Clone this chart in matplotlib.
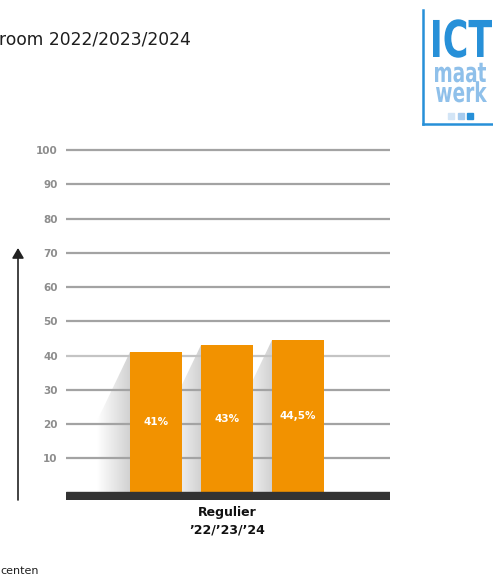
import matplotlib.pyplot as plt
import numpy as np
from matplotlib.colors import LinearSegmentedColormap
from matplotlib.patches import Polygon, PathPatch
from matplotlib.lines import Line2D
from matplotlib.textpath import TextPath
from matplotlib.font_manager import FontProperties
from matplotlib.transforms import Affine2D

# data
years = ["'22", "'23", "'24"]
values = [41, 43, 44.5]
value_labels = ["41%", "43%", "44,5%"]
category = "Regulier\n\u201922/\u201923/\u201924"
yticks = [10, 20, 30, 40, 50, 60, 70, 80, 90, 100]

orange = '#f29200'
grid_gray = '#a3a3a3'
logo_blue = '#2790d8'
logo_light = '#8fc0ea'

fig = plt.figure(figsize=(4.93, 5.76), dpi=100)
W, H = 493, 576

# axes placed so that 0 sits on the dark base and 100 on the top gridline
ax = fig.add_axes([66 / W, (H - 500) / H, 324 / W, 352 / H])
ax.set_xlim(-1.268, 3.296)
ax.set_ylim(-2.2, 100.6)
for s in ax.spines.values():
    s.set_visible(False)

x = np.arange(len(values))
bar_w = 0.73

# gridlines (the 40 line is a bit paler in the original)
for t in yticks:
    c = '#c4c4c4' if t == 40 else grid_gray
    ax.axhline(t, color=c, lw=1.6, zorder=2)

# dark base
ax.axhspan(-2.2, 0, color='#333333', zorder=4)

# shadows to the left of each bar: gradient clipped to a slanted shape
shade = LinearSegmentedColormap.from_list('shade', ['#ffffff', '#d0d0d0'])
grad = np.linspace(0, 1, 256).reshape(1, -1)
depth = 0.465
drop = 20
for xi, v in zip(x, values):
    x0 = xi - bar_w / 2
    poly = Polygon([(x0, v), (x0, 0), (x0 - depth, 0), (x0 - depth, v - drop)],
                   closed=True, facecolor='none', edgecolor='none')
    ax.add_patch(poly)
    im = ax.imshow(grad, cmap=shade, aspect='auto', extent=[x0 - depth, x0, 0, v],
                   zorder=1, interpolation='bilinear')
    im.set_clip_path(poly)

# bars
ax.bar(x, values, width=bar_w, color=orange, zorder=3)
for xi, v, lab in zip(x, values, value_labels):
    ax.text(xi, v / 2, lab, color='white', fontsize=7.5, fontweight='bold',
            ha='center', va='center', zorder=5)

ax.set_yticks(yticks)
ax.set_yticklabels([str(t) for t in yticks], color='#8d8d8d', fontsize=7.5,
                   fontweight='bold')
ax.set_xticks([1])
ax.set_xticklabels([category], fontsize=9, fontweight='bold', color='#111111',
                   linespacing=1.5)
ax.tick_params(axis='both', length=0)
ax.tick_params(axis='y', pad=6)
ax.tick_params(axis='x', pad=4)

# arrow on the left
fig.add_artist(plt.Annotation('', xy=(18, H - 248), xytext=(18, H - 500),
                              xycoords='figure pixels', textcoords='figure pixels',
                              arrowprops=dict(arrowstyle='-|>,head_length=0.6,head_width=0.35',
                                              color='#222222', lw=1.2, shrinkA=0, shrinkB=0)))

# title and footer
fig.text(-1 / W, 1 - 44 / H, 'room 2022/2023/2024', fontsize=12.3, color='#1e1e1e',
         fontweight='medium', ha='left', va='baseline')
fig.text(0, 1 - 574 / H, 'centen', fontsize=8, color='#1e1e1e', ha='left', va='baseline')

# logo frame
fig.add_artist(Line2D([423 / W, 423 / W], [1 - 10 / H, 1 - 124 / H], color=logo_blue, lw=1.8))
fig.add_artist(Line2D([423 / W, 1.0], [1 - 124 / H, 1 - 124 / H], color=logo_blue, lw=1.8))

# condensed logo words: text paths squeezed horizontally, placed in pixels
to_fig = Affine2D().scale(1 / W, 1 / H) + fig.transFigure
bold = FontProperties(family='DejaVu Sans', weight='bold')
def logo_word(s, left, right, baseline, size, color):
    tp = TextPath((0, 0), s, size=size, prop=bold)
    ext = tp.get_extents()
    sx = (right - left) / ext.width
    tr = Affine2D().translate(-ext.x0, 0).scale(sx, 1).translate(left, H - baseline)
    fig.add_artist(PathPatch(tp, facecolor=color, edgecolor='none', transform=tr + to_fig))

logo_word('ICT', 433, 492, 57, 50.8, logo_blue)
logo_word('maat', 435, 486, 82, 27.4, logo_light)
logo_word('werk', 436, 487, 102, 27.4, logo_light)
for sx, c in zip([448, 458, 467], ['#d3e5f6', '#a6cbee', logo_blue]):
    fig.add_artist(plt.Rectangle((sx / W, 1 - 119 / H), 6 / W, 6 / H, color=c,
                                 transform=fig.transFigure))

plt.savefig('out.png', dpi=100)
